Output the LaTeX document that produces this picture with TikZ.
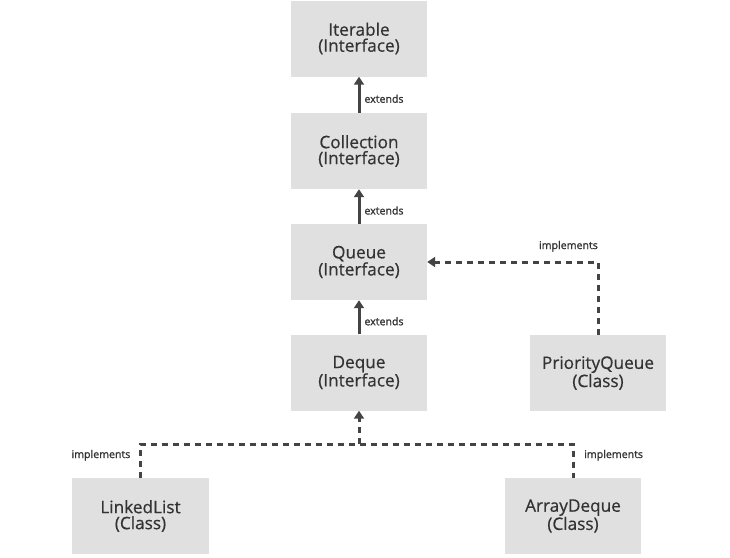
\documentclass[tikz,border=0pt]{standalone}
\usepackage{fontspec}
\setmainfont{Open Sans}
\newfontfamily\boxfont[FakeBold=0.6]{Open Sans}
\newfontfamily\lblfont[FakeBold=1.2]{Open Sans}
\usetikzlibrary{arrows.meta,calc}
\definecolor{boxfill}{HTML}{E0E0E0}
\definecolor{ink}{HTML}{333333}
\definecolor{lineink}{HTML}{444444}
\begin{document}
\begin{tikzpicture}[x=1pt,y=-1pt,
  box/.style={fill=boxfill, draw=none, minimum width=136pt, minimum height=76pt,
    inner sep=0pt, align=center, text=ink, font=\boxfont\fontsize{17.2}{16}\selectfont},
  lbl/.style={font=\lblfont\fontsize{10.6}{12}\selectfont, text=ink, inner sep=0pt},
  tip/.style={-{Triangle[width=10pt,length=8pt]}},
  ext/.style={draw=lineink, line width=3pt, tip},
  impl/.style={draw=lineink, line width=3pt, dash pattern=on 6pt off 5pt}]
\useasboundingbox (0,0) rectangle (730,557);
\fill[white] (0,0) rectangle (730,557);
\node[box] (iter) at (359,38.5) {Iterable\\(Interface)};
\node[box] (coll) at (359,151) {Collection\\(Interface)};
\node[box] (queue) at (359,262) {Queue\\(Interface)};
\node[box] (deque) at (359,372.5) {Deque\\(Interface)};
\node[box] (pq) at (598,373) {PriorityQueue\\(Class)};
\node[box, minimum width=137pt] (ll) at (140.5,516) {LinkedList\\(Class)};
\node[box] (ad) at (573,516) {ArrayDeque\\(Class)};
\draw[ext] (coll.north) -- node[lbl, anchor=west, xshift=4pt, yshift=-4pt] {extends} (iter.south);
\draw[ext] (queue.north) -- node[lbl, anchor=west, xshift=4pt, yshift=-4pt] {extends} (coll.south);
\draw[ext] (deque.north) -- node[lbl, anchor=west, xshift=4pt, yshift=-4pt] {extends} (queue.south);
\coordinate (pqc) at (pq.north |- queue.east);
\draw[impl, tip] (pq.north) -- (pqc) -- (queue.east);
\node[lbl, anchor=base east] (pqlbl) at ($(pqc)+(0,-13)$) {implements};
\coordinate (bus) at (359,444);
\coordinate (busl) at (ll.north |- bus);
\coordinate (busr) at (ad.north |- bus);
\draw[impl] (ll.north) -- (busl) -- (busr) -- (ad.north);
\draw[impl, tip] (bus) -- (deque.south);
\node[lbl, anchor=base east] (lllbl) at ($(busl)+(-10,14)$) {implements};
\node[lbl, anchor=base west] (adlbl) at ($(busr)+(11,14)$) {implements};
\end{tikzpicture}
\end{document}
